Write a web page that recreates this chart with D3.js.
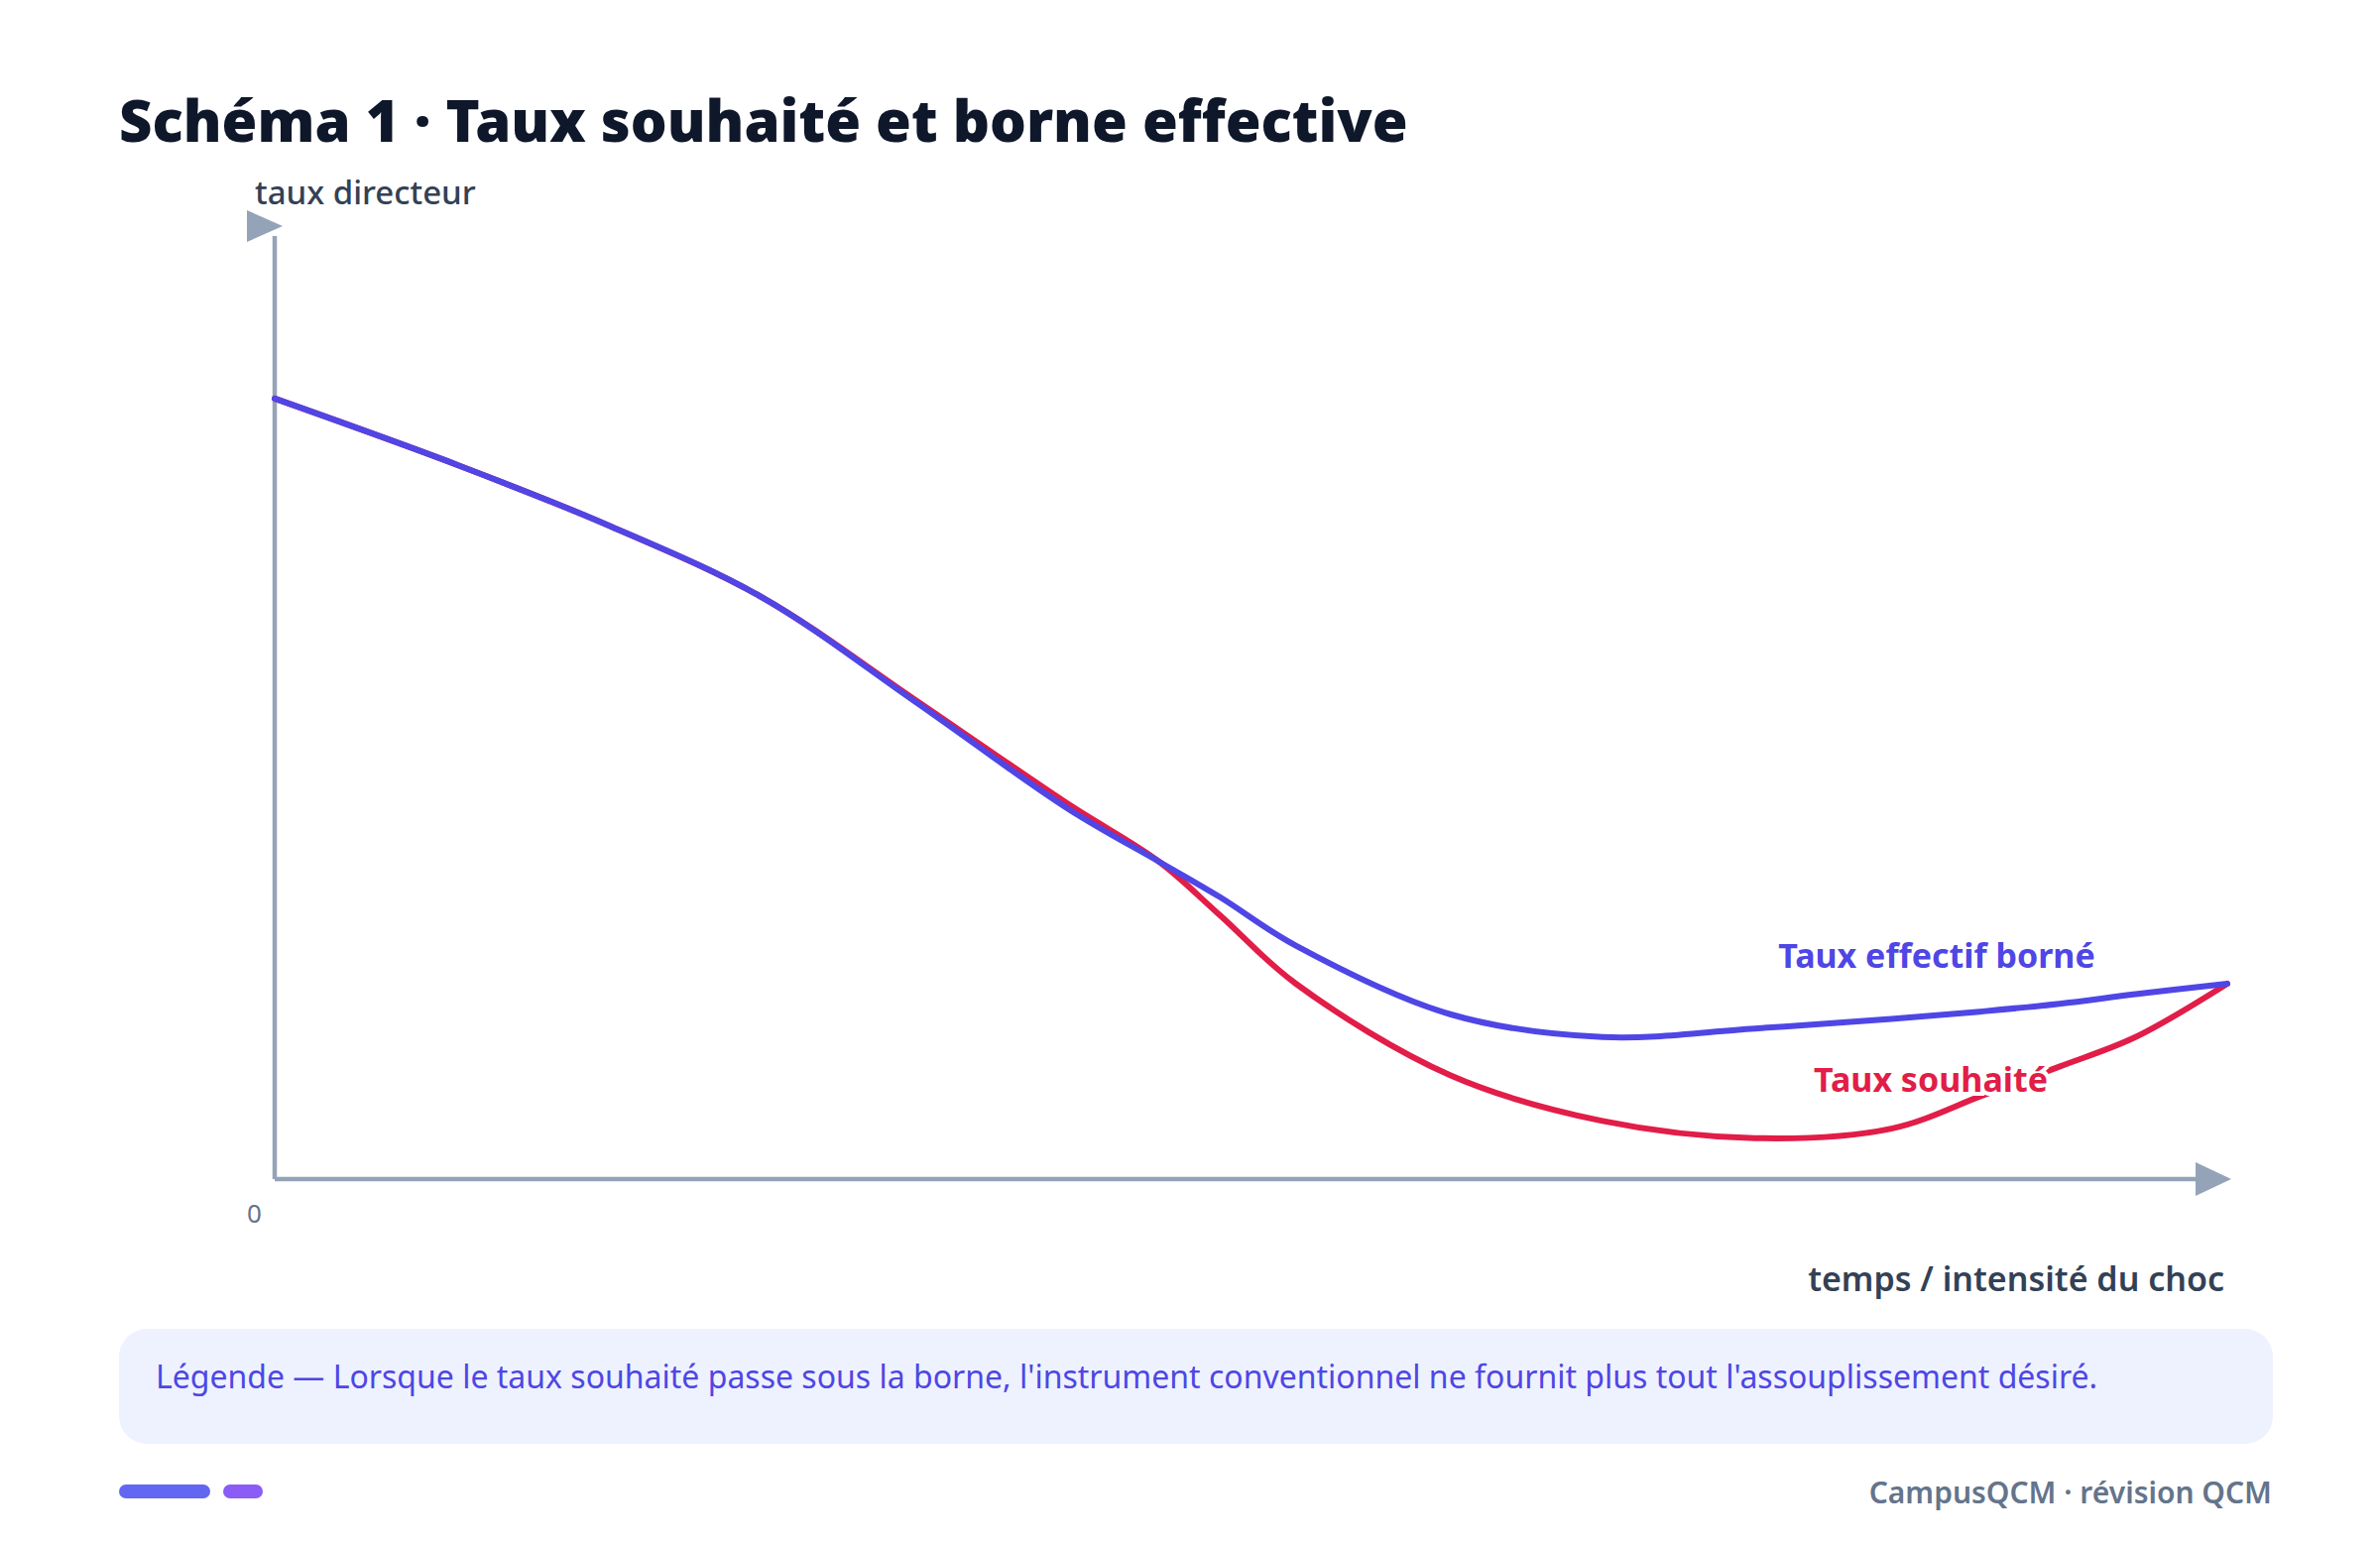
<!DOCTYPE html>
<html>
<head>
<meta charset="utf-8">
<script src="https://cdn.jsdelivr.net/npm/d3@7"></script>
<style>
  body { margin: 0; background: #fff; }
  text { font-family: "Noto Sans", "Open Sans", sans-serif; }
</style>
</head>
<body>
<div id="chart"></div>
<script>
// Schematic values (0-100 on both axes)
const tValues = [0, 9.4, 17.2, 25, 32.8, 40.6, 45.3, 48.4, 52.3, 60.2, 68, 75.8, 82.8, 87.5, 91.4, 95.3, 100];
const effectiveRate = [81.9, 74.9, 68.5, 61, 50.1, 38.9, 33.3, 29.6, 24.5, 17.3, 14.9, 15.8, 16.8, 17.6, 18.4, 19.4, 20.5];
const desiredRate = [81.9, 74.9, 68.5, 61, 50.3, 39.4, 33.3, 27.7, 20.5, 10.9, 6.1, 4.3, 5.3, 8.8, 11.8, 14.9, 20.5];
const seriesLabels = ['Taux effectif borné', 'Taux souhaité'];

const width = 2400, height = 1558;
const x0 = 277, x1 = 2246, yBase = 1189, yTop = 228;

const svg = d3.select('#chart').append('svg')
    .attr('width', width)
    .attr('height', height);

const x = d3.scaleLinear().domain([0, 100]).range([x0, x1]);
const y = d3.scaleLinear().domain([0, 100]).range([yBase, yBase - 961]);

// Title
svg.append('text')
    .attr('x', 120).attr('y', 143)
    .attr('font-size', 58).attr('font-weight', 900)
    .attr('fill', '#0f172a')
    .text('Schéma 1 · Taux souhaité et borne effective');

// Axes
const axisColor = '#94a3b8';
svg.append('line')
    .attr('x1', x0).attr('y1', yBase).attr('x2', x0).attr('y2', yTop + 10)
    .attr('stroke', axisColor).attr('stroke-width', 4.5);
svg.append('line')
    .attr('x1', x0).attr('y1', yBase).attr('x2', x1 - 10).attr('y2', yBase)
    .attr('stroke', axisColor).attr('stroke-width', 4.5);
// arrow heads
svg.append('path')
    .attr('d', `M${x0 - 28},${yTop - 16} L${x0 + 8},${yTop} L${x0 - 28},${yTop + 16} Z`)
    .attr('fill', axisColor);
svg.append('path')
    .attr('d', `M${x1 - 32},${yBase - 17} L${x1 + 4},${yBase} L${x1 - 32},${yBase + 17} Z`)
    .attr('fill', axisColor);

svg.append('text')
    .attr('x', 257).attr('y', 206)
    .attr('font-size', 33).attr('font-weight', 500)
    .attr('fill', '#334155')
    .text('taux directeur');
svg.append('text')
    .attr('x', 249).attr('y', 1233)
    .attr('font-size', 26)
    .attr('fill', '#64748b')
    .text('0');
svg.append('text')
    .attr('x', 2243).attr('y', 1302)
    .attr('text-anchor', 'end')
    .attr('font-size', 34).attr('font-weight', 600)
    .attr('fill', '#334155')
    .text('temps / intensité du choc');

// Curves
const line = d3.line()
    .x((d, i) => x(tValues[i]))
    .y(d => y(d))
    .curve(d3.curveCatmullRom.alpha(0.5));

svg.append('path')
    .datum(desiredRate)
    .attr('d', line)
    .attr('fill', 'none')
    .attr('stroke', '#e11d48')
    .attr('stroke-width', 6)
    .attr('stroke-linecap', 'round');
svg.append('path')
    .datum(effectiveRate)
    .attr('d', line)
    .attr('fill', 'none')
    .attr('stroke', '#4f46e5')
    .attr('stroke-width', 6)
    .attr('stroke-linecap', 'round');

// Series labels
svg.append('text')
    .attr('x', 1953).attr('y', 976)
    .attr('text-anchor', 'middle')
    .attr('font-size', 34).attr('font-weight', 700)
    .attr('fill', '#4f46e5')
    .text(seriesLabels[0]);
svg.append('text')
    .attr('x', 1947).attr('y', 1101)
    .attr('text-anchor', 'middle')
    .attr('font-size', 34).attr('font-weight', 700)
    .attr('fill', '#e11d48')
    .attr('stroke', '#fff').attr('stroke-width', 8)
    .attr('paint-order', 'stroke')
    .text(seriesLabels[1]);

// Legend box
svg.append('rect')
    .attr('x', 120).attr('y', 1340)
    .attr('width', 2172).attr('height', 116)
    .attr('rx', 28)
    .attr('fill', '#eef2ff');
svg.append('text')
    .attr('x', 157).attr('y', 1400)
    .attr('font-size', 32)
    .attr('fill', '#4f46e5')
    .text("Légende — Lorsque le taux souhaité passe sous la borne, l'instrument conventionnel ne fournit plus tout l'assouplissement désiré.");

// Footer
svg.append('rect')
    .attr('x', 120).attr('y', 1497).attr('width', 92).attr('height', 14)
    .attr('rx', 7).attr('fill', '#6366f1');
svg.append('rect')
    .attr('x', 225).attr('y', 1497).attr('width', 40).attr('height', 14)
    .attr('rx', 7).attr('fill', '#8b5cf6');
svg.append('text')
    .attr('x', 2291).attr('y', 1516)
    .attr('text-anchor', 'end')
    .attr('font-size', 30).attr('font-weight', 600)
    .attr('fill', '#64748b')
    .text('CampusQCM · révision QCM');
</script>
</body>
</html>
